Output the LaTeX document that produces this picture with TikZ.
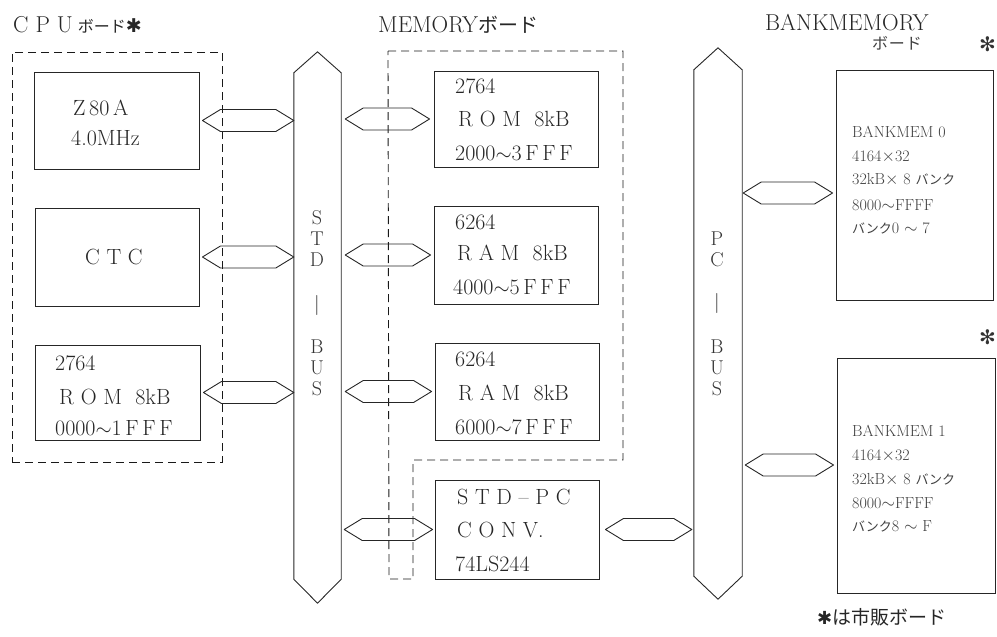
\documentclass[tikz,border=0pt]{standalone}
\usepackage{fontspec}
\newfontfamily\cjk{Noto Sans CJK JP}
\newfontfamily\djv{DejaVu Sans}
\usetikzlibrary{calc}
\newcommand\hexc[2]{\draw[conn] let \p1=#1, \p2=#2 in (\x1,\y1) -- (\x1+18pt,\y1+11pt) -- (\x2-18pt,\y1+11pt) -- (\x2,\y1) -- (\x2-18pt,\y1-11pt) -- (\x1+18pt,\y1-11pt) -- cycle;}
\begin{document}
\begin{tikzpicture}[x=1pt,y=-1pt,
  line/.style={draw=black!85, line width=0.9pt, line join=round},
  dbox/.style={draw=black!90, line width=0.9pt, dash pattern=on 8pt off 5pt},
  blk/.style={draw=black!85, line width=0.9pt, inner sep=0pt},
  conn/.style={draw=black!85, line width=0.9pt, line join=round},
  txt/.style={anchor=west, inner sep=0pt, text=black!85, font=\fontsize{22}{22}\selectfont\addfontfeature{LetterSpace=4}},
  small/.style={anchor=west, inner sep=0pt, text=black!75, font=\fontsize{16}{16}\selectfont\addfontfeature{LetterSpace=12}},
  bustxt/.style={inner sep=0pt, text=black!80, font=\fontsize{20}{20}\selectfont},
  ttl/.style={anchor=west, inner sep=0pt, text=black!85, font=\fontsize{23}{23}\selectfont\addfontfeature{LetterSpace=3}},
]
\useasboundingbox (0,0) rectangle (997,637);

% boards
\node[dbox, minimum width=210, minimum height=410, inner sep=0pt] (cpub) at (117,257) {};
\draw[dbox] (388,51) -- (623,51) -- (623,460) -- (413,460) -- (413,579) -- (389,579) -- cycle;

% buses
\node[minimum width=47, minimum height=506, inner sep=0pt] (std) at (317.5,326) {};
\draw[line] (std.north west) -- ([yshift=21pt]std.north) -- (std.north east) -- (std.south east) -- ([yshift=-24pt]std.south) -- (std.south west) -- cycle;
\node[minimum width=48, minimum height=506, inner sep=0pt] (pc) at (718,323) {};
\draw[line] (pc.north west) -- ([yshift=22pt]pc.north) -- (pc.north east) -- (pc.south east) -- ([yshift=-23pt]pc.south) -- (pc.south west) -- cycle;

\foreach \c/\y [count=\i] in {S/218,T/239,D/260,|/305,B/347,U/368,S/389}
  \node[bustxt] (sb\i) at (317,\y) {\c};
\foreach \c/\y [count=\i] in {P/239,C/260,|/303,B/347,U/368,S/389}
  \node[bustxt] (pb\i) at (717,\y) {\c};

% titles
\node[ttl] (tcpu) at (13,25) {C\hspace{7pt}P\hspace{7pt}U\hspace{5pt}{\cjk\fontsize{16}{16}\selectfont ボード}{\djv\fontsize{19}{19}\selectfont ✱}};
\node[ttl] (tmem) at (378,25) {MEMORY{\cjk\fontsize{20}{20}\selectfont ボード}};
\node[ttl] (tbank) at (765,23) {BANKMEMORY};
\node[anchor=west, inner sep=0pt, text=black!75, font=\cjk\fontsize{16}{16}\selectfont\addfontfeature{LetterSpace=5}] (tbank2) at (872,43) {ボード};
\node[anchor=east, inner sep=0pt, text=black!80, font=\djv\fontsize{20}{20}\selectfont] (ast1) at (996,44) {✻};
\node[anchor=east, inner sep=0pt, text=black!80, font=\djv\fontsize{20}{20}\selectfont] (ast2) at (996,337) {✻};
\node[anchor=west, inner sep=0pt, text=black!85] (legend) at (817,617) {{\djv\fontsize{18}{18}\selectfont ✱}{\cjk\fontsize{19}{19}\selectfont は市販ボード}};

% CPU board boxes
\node[blk, minimum width=165, minimum height=97] (z80) at (116.5,120.5) {};
\node[txt] (z80a) at (73,108) {Z\,80\,A};
\node[txt] (z80b) at (71,138) {4.0MHz};
\node[blk, minimum width=164, minimum height=98] (ctc) at (117,257) {};
\node[txt] (ctca) at (85,257) {C T C};
\node[blk, minimum width=165, minimum height=95] (crom) at (117.5,392.5) {};
\node[txt] (croma) at (55,363) {2764};
\node[txt] (cromb) at (59,397) {R O M\ \ 8kB};
\node[txt] (cromc) at (55,428) {0000$\sim$1\,F\,F\,F};

% memory board boxes
\node[blk, minimum width=164, minimum height=96] (mrom) at (516,119) {};
\node[txt] (mroma) at (455,86) {2764};
\node[txt] (mromb) at (458,119) {R O M\ \ 8kB};
\node[txt] (mromc) at (455,153) {2000$\sim$3\,F\,F\,F};
\node[blk, minimum width=164, minimum height=98] (ram1) at (516,255) {};
\node[txt] (ram1a) at (455,222) {6264};
\node[txt] (ram1b) at (457,253) {R A M\ \ 8kB};
\node[txt] (ram1c) at (453,287) {4000$\sim$5\,F\,F\,F};
\node[blk, minimum width=164, minimum height=97] (ram2) at (517,391.5) {};
\node[txt] (ram2a) at (455,359) {6264};
\node[txt] (ram2b) at (458,393) {R A M\ \ 8kB};
\node[txt] (ram2c) at (455,427) {6000$\sim$7\,F\,F\,F};
\node[blk, minimum width=164, minimum height=99] (conv) at (517,529.5) {};
\node[txt] (conva) at (457,497) {S\ T\ D\ -- P\ C};
\node[txt] (convb) at (457,530) {C O N V.};
\node[txt] (convc) at (455,564) {74LS244};

% bank memory boxes
\node[blk, minimum width=157, minimum height=230] (bank0) at (914.5,185) {};
\node[small] (b0a) at (852,132) {BANKMEM 0};
\node[small] (b0b) at (852,157) {4164$\times$32};
\node[small] (b0c) at (852,180) {32kB$\times$ 8 {\cjk\fontsize{13}{13}\selectfont バンク}};
\node[small] (b0d) at (852,205) {8000$\sim$FFFF};
\node[small] (b0e) at (852,228) {{\cjk\fontsize{13}{13}\selectfont バンク}0 $\sim$ 7};
\node[blk, minimum width=158, minimum height=235] (bank1) at (916,475.5) {};
\node[small] (b1a) at (852,431) {BANKMEM 1};
\node[small] (b1b) at (852,456) {4164$\times$32};
\node[small] (b1c) at (852,480) {32kB$\times$ 8 {\cjk\fontsize{13}{13}\selectfont バンク}};
\node[small] (b1d) at (852,503) {8000$\sim$FFFF};
\node[small] (b1e) at (852,526) {{\cjk\fontsize{13}{13}\selectfont バンク}8 $\sim$ F};

% connectors
\hexc{([xshift=3pt]z80.east)}{(std.west |- z80.east)}
\hexc{([xshift=3pt]ctc.east)}{(std.west |- ctc.east)}
\hexc{([xshift=3pt]crom.east)}{(std.west |- crom.east)}
\hexc{([xshift=4pt]std.east |- mrom.west)}{([xshift=-4pt]mrom.west)}
\hexc{([xshift=4pt]std.east |- ram1.west)}{([xshift=-3pt]ram1.west)}
\hexc{([xshift=4pt]std.east |- ram2.west)}{([xshift=-3pt]ram2.west)}
\hexc{([xshift=3pt]std.east |- conv.west)}{([xshift=-2pt]conv.west)}
\hexc{([xshift=6pt]conv.east)}{([xshift=-2pt]pc.west |- conv.east)}
\hexc{([xshift=1pt]pc.east |- 0,193)}{([xshift=-3pt]bank0.west |- 0,193)}
\hexc{([xshift=3pt]pc.east |- 0,465)}{([xshift=-3pt]bank1.west |- 0,465)}
\end{tikzpicture}
\end{document}
